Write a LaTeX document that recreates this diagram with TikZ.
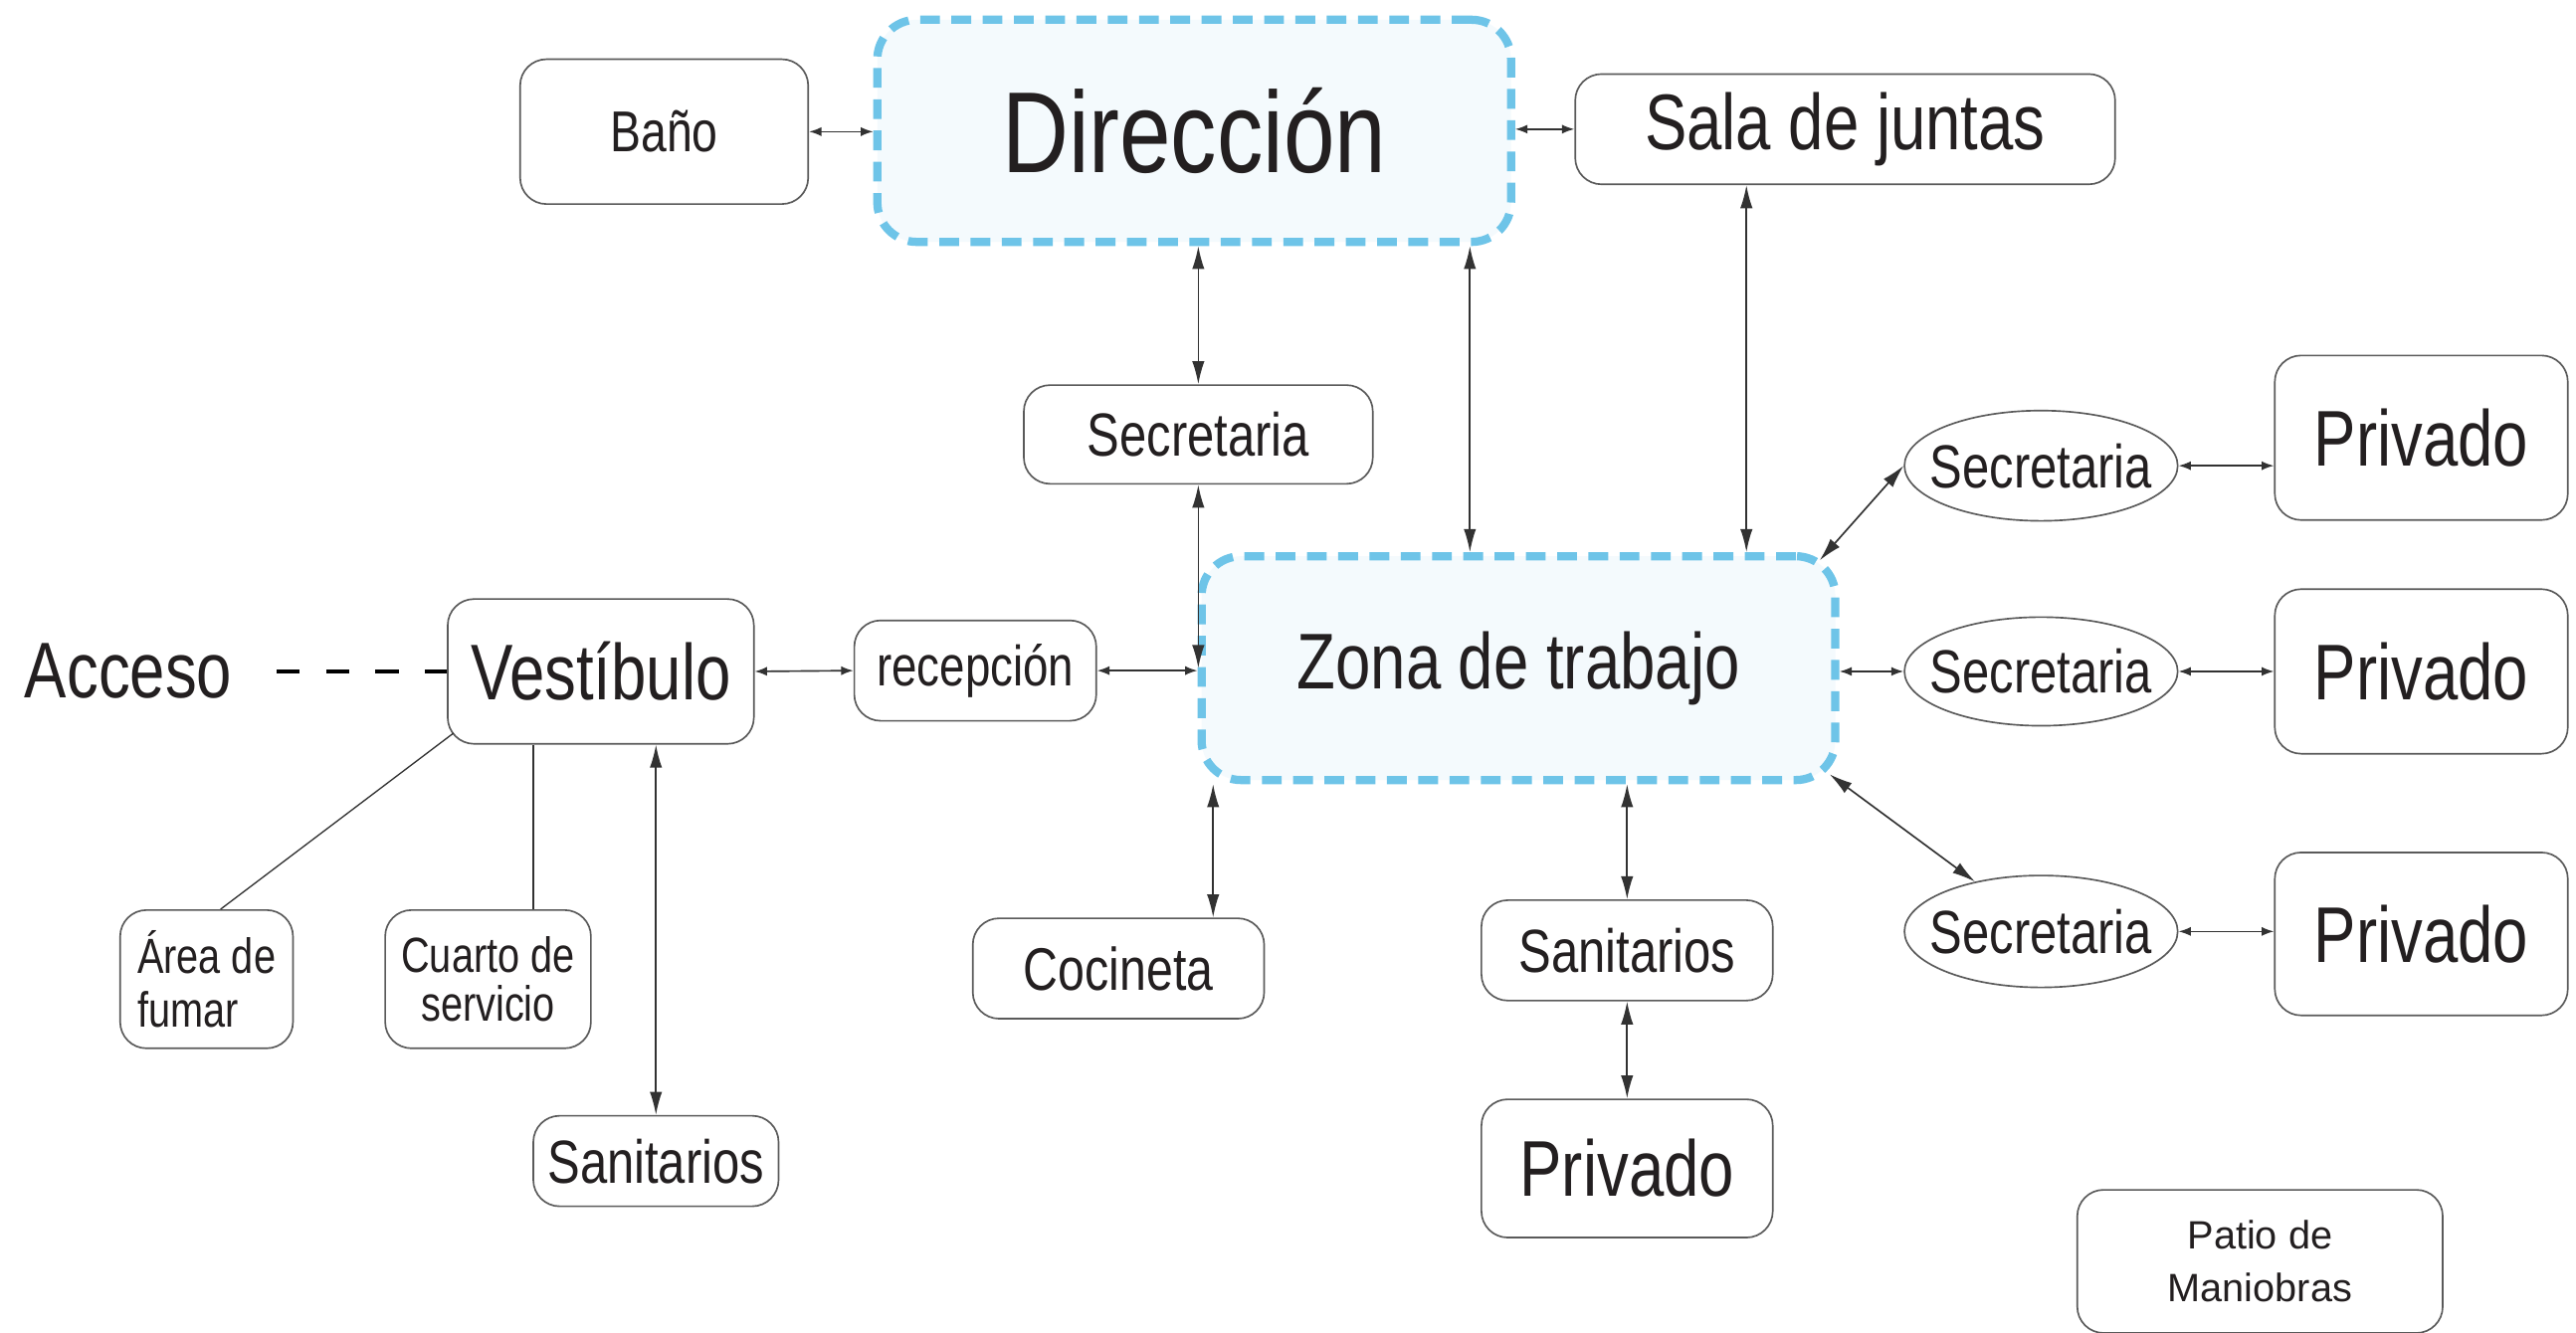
\documentclass[tikz,border=0pt]{standalone}
\usepackage{fontspec}
\setmainfont[FakeStretch=0.8]{Liberation Sans}
\newfontfamily\patiofont{Liberation Sans}
\usetikzlibrary{arrows.meta,shapes.geometric,calc}
\definecolor{txt}{RGB}{35,31,32}
\definecolor{boxgray}{RGB}{90,90,90}
\definecolor{linegray}{RGB}{50,50,50}
\definecolor{zoneblue}{RGB}{110,196,232}
\definecolor{zonefill}{RGB}{244,250,253}
\newcommand{\narrowtext}[1]{\makebox[100pt]{#1}}
\begin{document}
\begin{tikzpicture}[x=1pt,y=-1pt,
 box/.style={draw=boxgray, line width=1pt, rounded corners=16pt, text=txt, inner sep=0pt, align=center},
 zone/.style={draw=zoneblue, fill=zonefill, line width=5pt, dash pattern=on 12pt off 7pt, rounded corners=24pt, text=txt, inner sep=0pt},
 sec/.style={ellipse, draw=boxgray, line width=1pt, text=txt, inner sep=0pt, minimum width=166pt, minimum height=67pt, font=\fontsize{37}{40}\selectfont},
 arr/.style={draw=linegray, line width=1pt, {Latex[length=7.5pt,width=5.5pt]}-{Latex[length=7.5pt,width=5.5pt]}},
 arrL/.style={draw=linegray, line width=1pt, {Latex[length=14pt,width=7.5pt]}-{Latex[length=14pt,width=7.5pt]}},
 ln/.style={draw=linegray, line width=0.8pt},
 big/.style={font=\fontsize{48}{52}\selectfont},
 mid/.style={font=\fontsize{37}{40}\selectfont}]
\useasboundingbox[fill=white] (0,0) rectangle (1565,810);

% zones
\node[zone, minimum width=385pt, minimum height=135pt, font=\fontsize{70}{80}\selectfont] (dir) at (725.5,79.5) {Dirección};
\node[zone, minimum width=385pt, minimum height=136pt, big] (zona) at (922.5,406) {Zona de trabajo};

% boxes
\node[box, minimum width=175pt, minimum height=88pt, font=\fontsize{35}{38}\selectfont] (bano) at (403.5,80) {Baño};
\node[box, minimum width=328pt, minimum height=67pt, big] (sala) at (1121,78.5) {Sala de juntas};
\node[box, minimum width=212pt, minimum height=60pt, mid] (sect) at (728,264) {Secretaria};
\node[box, minimum width=186pt, minimum height=88pt, big] (vest) at (365,408) {Vestíbulo};
\node[text=txt, inner sep=0pt, big] (acc) at (78,408) {Acceso};
\node[box, minimum width=147pt, minimum height=61pt, font=\fontsize{34.5}{38}\selectfont] (recep) at (592.5,407.5) {recepción};
\node[box, minimum width=105pt, minimum height=84pt, align=left, font=\fontsize{30}{33}\selectfont] (area) at (125.5,595) {Área de\\fumar};
\node[box, minimum width=125pt, minimum height=84pt, font=\fontsize{30}{30}\selectfont] (cuarto) at (296.5,595) {Cuarto de\\servicio};
\node[box, minimum width=149pt, minimum height=55pt, mid] (sanl) at (398.5,705.5) {Sanitarios};
\node[box, minimum width=177pt, minimum height=61pt, font=\fontsize{36.5}{40}\selectfont] (coc) at (679.5,588.5) {Cocineta};
\node[box, minimum width=177pt, minimum height=61pt, mid] (sanr) at (988.5,577.5) {Sanitarios};
\node[box, minimum width=177pt, minimum height=84pt, big] (privb) at (988.5,710) {Privado};
\node[sec] (e1) at (1240,283) {\narrowtext{Secretaria}};
\node[sec, minimum height=66pt] (e2) at (1240,408) {\narrowtext{Secretaria}};
\node[sec, minimum height=68pt] (e3) at (1240,566) {\narrowtext{Secretaria}};
\node[box, minimum width=178pt, minimum height=100pt, big] (p1) at (1471,266) {Privado};
\node[box, minimum width=178pt, minimum height=100pt, big] (p2) at (1471,408) {Privado};
\node[box, minimum width=178pt, minimum height=99pt, big] (p3) at (1471,567.5) {Privado};
\node[box, minimum width=222pt, minimum height=87pt, font=\patiofont\fontsize{24}{32}\selectfont] (patio) at (1373,766.5) {Patio de\\Maniobras};

% connectors
\draw[arr] (bano.east) -- (bano.east -| dir.west);
\draw[arr] (dir.east |- sala.west) -- (sala.west);
\draw[arrL] (sect.north) -- (sect.north |- dir.south);
\draw[arrL] (sect.south) -- (sect.south |- zona.west);
\draw[arrL] ([xshift=-29.5pt]zona.north) -- ([xshift=-29.5pt]zona.north |- dir.south);
\draw[arrL] ([xshift=-60pt]sala.south) -- ([xshift=-60pt]sala.south |- zona.north);
\draw[arr] (vest.east) -- (recep.west);
\draw[arr] (recep.east) -- (recep.east -| zona.west);
\draw[line width=2.5pt, draw=black, dash pattern=on 14pt off 16pt] ([xshift=27pt]acc.east) -- (vest.west);
\draw[ln] ([xshift=4pt,yshift=7pt]vest.south west) -- ([xshift=8.5pt]area.north);
\draw[ln] ([xshift=27.5pt]cuarto.north) -- ([xshift=27.5pt]cuarto.north |- vest.south);
\draw[arrL] (sanl.north) -- (sanl.north |- vest.south);
\draw[arrL] ([xshift=57.5pt]coc.north) -- ([xshift=57.5pt]coc.north |- zona.south);
\draw[arrL] (sanr.north) -- (sanr.north |- zona.south);
\draw[arrL] (sanr.south) -- (privb.north);
\draw[arr] (e2.west -| zona.east) -- (e2.west);
\draw[arrL] ([xshift=-12pt,yshift=-5pt]zona.north east) -- (e1.west);
\draw[arrL] ([xshift=-6pt,yshift=6pt]zona.south east) -- (e3.143);
\draw[arr] (e1.east) -- (e1.east -| p1.west);
\draw[arr] (e2.east) -- (e2.east -| p2.west);
\draw[arr] (e3.east) -- (e3.east -| p3.west);
\end{tikzpicture}
\end{document}
